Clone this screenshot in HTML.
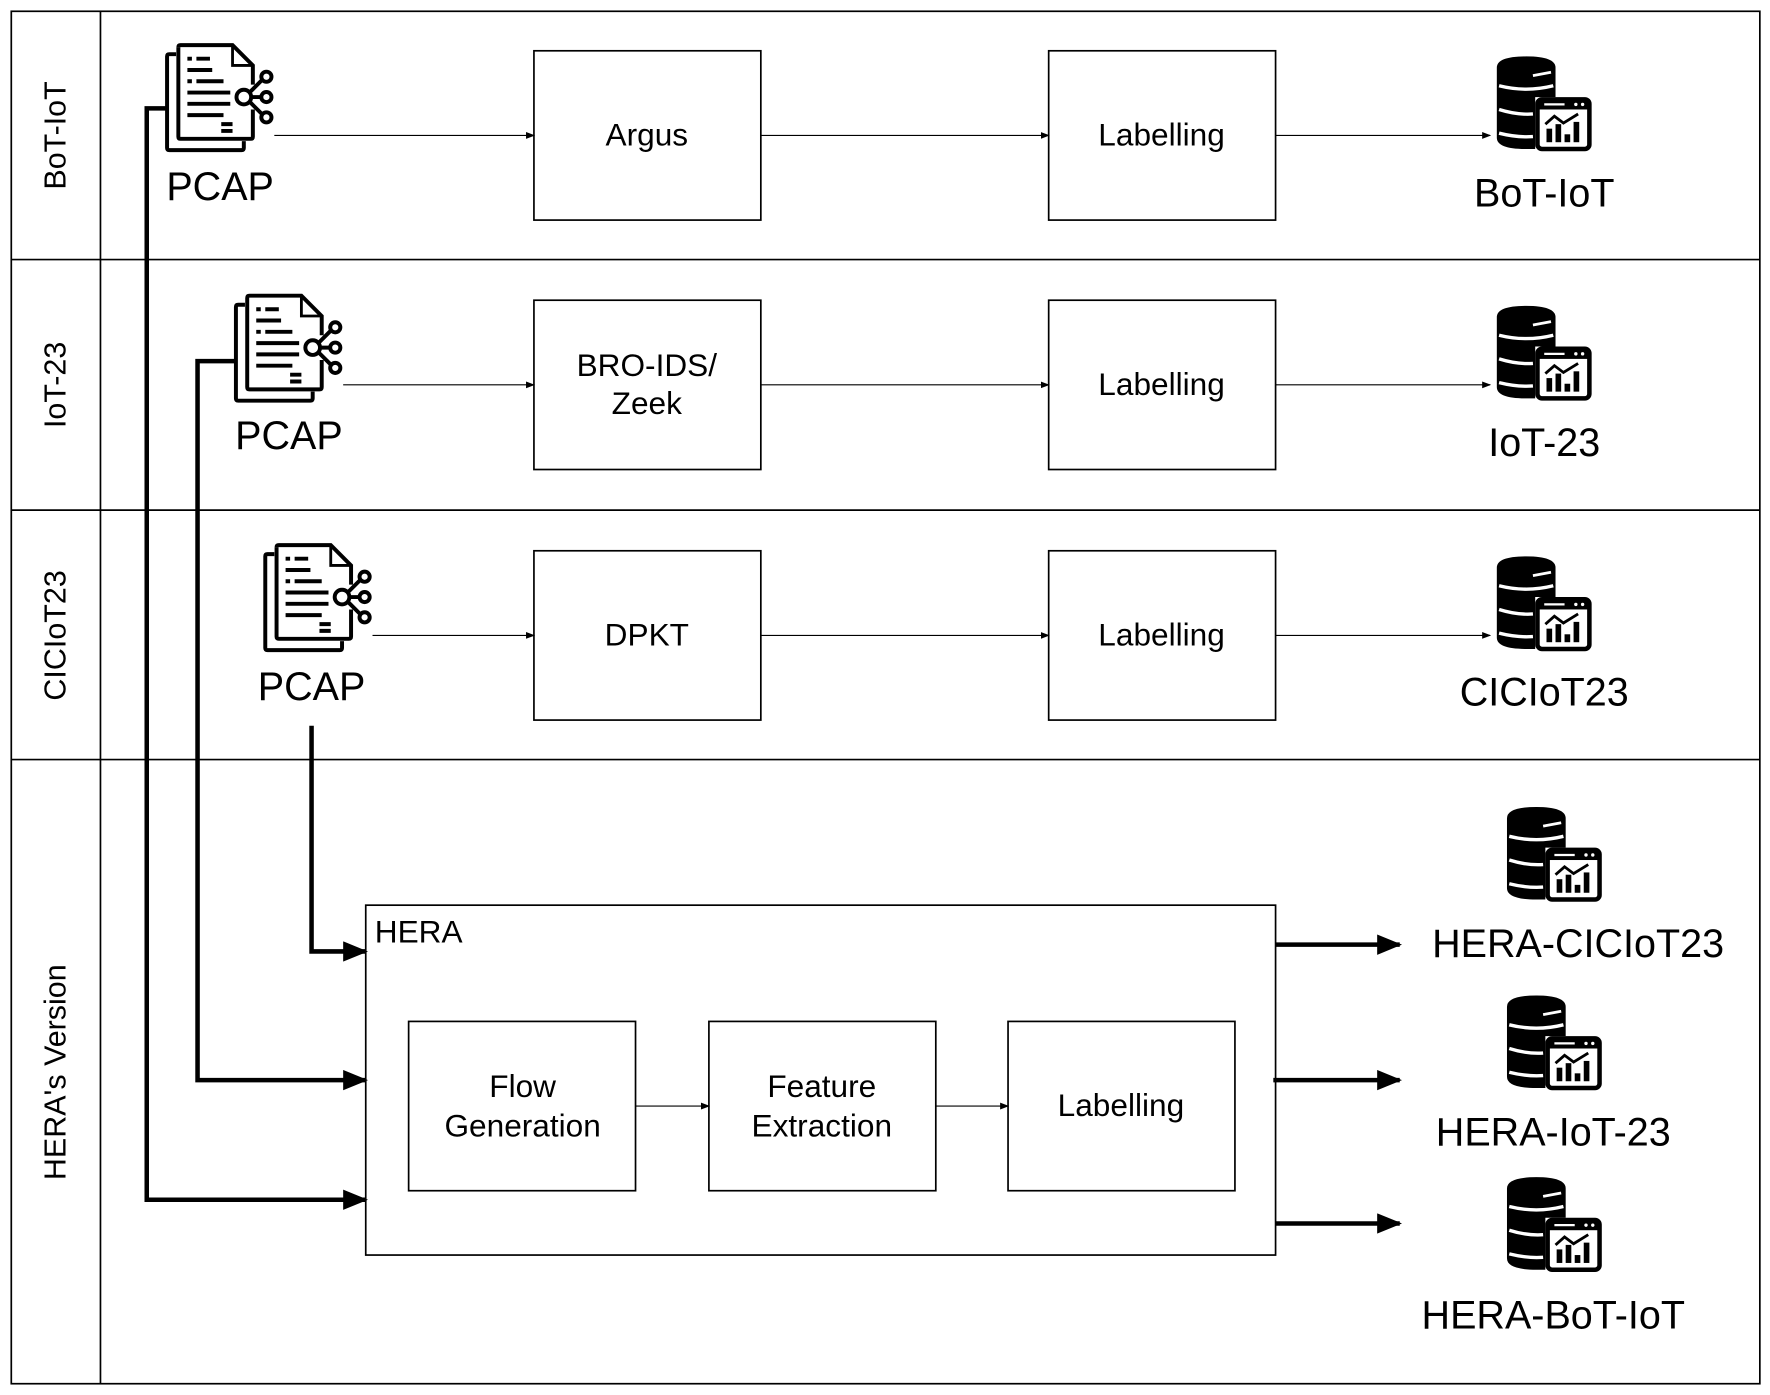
<!DOCTYPE html>
<html><head><meta charset="utf-8"><style>html,body{margin:0;padding:0;background:#fff}svg{display:block}text{font-family:"Liberation Sans",Arial,sans-serif;fill:#000}</style></head>
<body>
<svg width="1770" height="1395" viewBox="0 0 1568 1236" preserveAspectRatio="none" xmlns="http://www.w3.org/2000/svg">
<defs>
<marker id="a" markerWidth="8" markerHeight="8" refX="7" refY="4" orient="auto" markerUnits="userSpaceOnUse"><path d="M0,1 L8,4 L0,7 z" fill="#000"/></marker>
<marker id="b" markerWidth="22" markerHeight="18" refX="20" refY="9" orient="auto" markerUnits="userSpaceOnUse"><path d="M0,0 L22,9 L0,18 z" fill="#000"/></marker>
<g id="doc" fill="none" stroke="#000" stroke-width="3.5">
 <path d="M8,8 L2,8 Q0,8 0,10 L0,91 Q0,93 2,93 L66,93 Q68,93 68,91 L68,85"/>
 <path d="M10,2 Q10,0 12,0 L58,0 L76,18 L76,35"/>
 <path d="M76,57 L76,81 Q76,83 74,83 L12,83 Q10,83 10,81 L10,2"/>
 <path d="M58,0 L58,18 L76,18" stroke-width="2.5"/>
 <path d="M18,12 L22,12 M26,12 L38,12 M18,22 L40,22 M18,32 L22,32 M26,32 L50,32 M18,42 L56,42 M18,52 L56,52 M18,62 L50,62 M48,70 L58,70 M48,76 L58,76"/>
 <circle cx="68" cy="46" r="6.5"/><circle cx="88" cy="28" r="4.5"/><circle cx="88" cy="46" r="4.5"/><circle cx="88" cy="64" r="4.5"/>
 <path d="M73,42 L84,31 M75,46 L83,46 M73,50 L84,61"/>
</g>
<g id="db">
 <path d="M0,10 Q0,0 26,0 Q52,0 52,10 L52,36 L34,36 L34,82 L26,82 Q0,82 0,72 Z" fill="#000"/>
 <path d="M2,26 Q26,32 50,26 M2,47 Q18,52 32,51 M2,68 Q18,72 32,71" stroke="#fff" stroke-width="3" fill="none"/>
 <path d="M32,17 L48,14" stroke="#fff" stroke-width="2.5"/>
 <rect x="36" y="38" width="46" height="44" rx="4" fill="#fff" stroke="#000" stroke-width="4"/>
 <rect x="36" y="38" width="46" height="9" fill="#000"/>
 <circle cx="70" cy="42.5" r="1.5" fill="#fff"/><circle cx="76" cy="42.5" r="1.5" fill="#fff"/><path d="M42,42.5 L60,42.5" stroke="#fff" stroke-width="2"/>
 <path d="M43,60 L51,53 L59,59 L72,51" stroke="#000" stroke-width="2.5" fill="none"/>
 <rect x="44" y="64" width="5" height="12" fill="#000"/><rect x="52" y="60" width="5" height="16" fill="#000"/><rect x="60" y="69" width="5" height="7" fill="#000"/><rect x="68" y="58" width="5" height="18" fill="#000"/>
</g>
</defs>
<g fill="none" stroke="#000" stroke-width="1.5">
 <rect x="10" y="10" width="1549" height="1216"/>
 <path d="M89,10 L89,1226 M10,230 L1559,230 M10,452 L1559,452 M10,673 L1559,673"/>
 <rect x="473" y="45" width="201" height="150"/><rect x="929" y="45" width="201" height="150"/>
 <rect x="473" y="266" width="201" height="150"/><rect x="929" y="266" width="201" height="150"/>
 <rect x="473" y="488" width="201" height="150"/><rect x="929" y="488" width="201" height="150"/>
 <rect x="324" y="802" width="806" height="310"/>
 <rect x="362" y="905" width="201" height="150"/><rect x="628" y="905" width="201" height="150"/><rect x="893" y="905" width="201" height="150"/>
</g>
<g stroke="#000" stroke-width="1" marker-end="url(#a)">
 <line x1="243" y1="120" x2="473" y2="120"/><line x1="674" y1="120" x2="929" y2="120"/><line x1="1130" y1="120" x2="1320" y2="120"/>
 <line x1="304" y1="341" x2="473" y2="341"/><line x1="674" y1="341" x2="929" y2="341"/><line x1="1130" y1="341" x2="1320" y2="341"/>
 <line x1="330" y1="563" x2="473" y2="563"/><line x1="674" y1="563" x2="929" y2="563"/><line x1="1130" y1="563" x2="1320" y2="563"/>
 <line x1="563" y1="980" x2="628" y2="980"/><line x1="829" y1="980" x2="893" y2="980"/>
</g>
<g stroke="#000" stroke-width="4" fill="none" marker-end="url(#b)">
 <path d="M148,96 L130,96 L130,1063 L324,1063"/>
 <path d="M209,320 L175,320 L175,957 L324,957"/>
 <path d="M276,643 L276,843 L324,843"/>
 <path d="M1130,837 L1240,837"/><path d="M1128,957 L1240,957"/><path d="M1130,1084 L1240,1084"/>
</g>
<use href="#doc" x="148" y="40"/><use href="#doc" x="209" y="262"/><use href="#doc" x="235" y="483"/>
<use href="#db" x="1326" y="50"/><use href="#db" x="1326" y="271"/><use href="#db" x="1326" y="493"/>
<use href="#db" x="1335" y="715"/><use href="#db" x="1335" y="882"/><use href="#db" x="1335" y="1043"/>
<g font-size="27" text-anchor="middle">
 <text transform="translate(58,120) rotate(-90)">BoT-IoT</text>
 <text transform="translate(58,341) rotate(-90)">IoT-23</text>
 <text transform="translate(58,563) rotate(-90)">CICIoT23</text>
 <text transform="translate(58,950) rotate(-90)">HERA's Version</text>
</g>
<g font-size="28" text-anchor="middle">
 <text x="573" y="129">Argus</text><text x="1029" y="129">Labelling</text>
 <text x="573" y="333">BRO-IDS/</text><text x="573" y="367">Zeek</text><text x="1029" y="350">Labelling</text>
 <text x="573" y="572">DPKT</text><text x="1029" y="572">Labelling</text>
 <text x="463" y="972">Flow</text><text x="463" y="1007">Generation</text>
 <text x="728" y="972">Feature</text><text x="728" y="1007">Extraction</text>
 <text x="993" y="989">Labelling</text>
</g>
<text x="332" y="835" font-size="28">HERA</text>
<g font-size="35" text-anchor="middle">
 <text x="195" y="177">PCAP</text><text x="256" y="398">PCAP</text><text x="276" y="620">PCAP</text>
 <text x="1368" y="183">BoT-IoT</text><text x="1368" y="404">IoT-23</text><text x="1368" y="625">CICIoT23</text>
 <text x="1398" y="848">HERA-CICIoT23</text><text x="1376" y="1015">HERA-IoT-23</text><text x="1376" y="1177">HERA-BoT-IoT</text>
</g>
</svg>
</body></html>
